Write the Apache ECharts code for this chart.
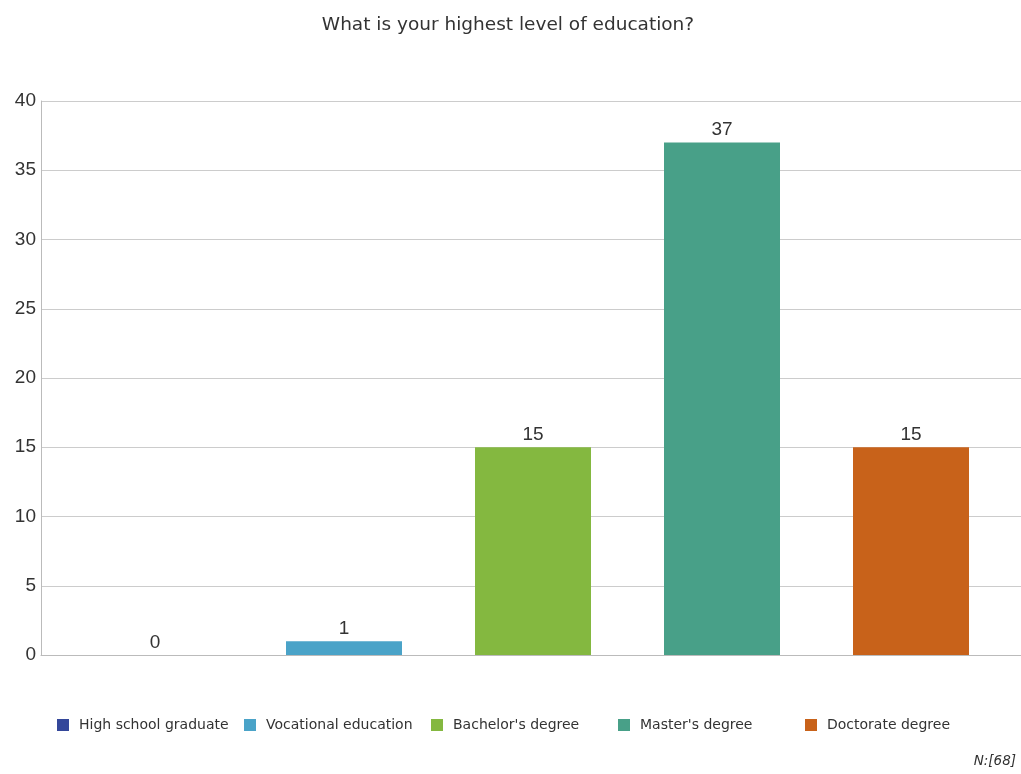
<!DOCTYPE html>
<html>
<head>
<meta charset="utf-8">
<script src="https://cdn.jsdelivr.net/npm/echarts@6/dist/echarts.min.js"></script>
<style>html,body{margin:0;padding:0;background:#fff;}#c{width:1021px;height:774px;}</style>
</head>
<body>
<div id="c"></div>
<script>
var categories = ["High school graduate", "Vocational education", "Bachelor's degree", "Master's degree", "Doctorate degree"];
var values = [0, 1, 15, 37, 15];
var colors = ["#34479a", "#4aa3c8", "#84b840", "#48a088", "#c8621a"];
var yTicks = [0, 5, 10, 15, 20, 25, 30, 35, 40];
var legendLefts = [57, 244, 431, 618, 805];

var chart = echarts.init(document.getElementById('c'));
var series = categories.map(function (name, i) {
  return {
    name: name,
    type: 'bar',
    xAxisIndex: 1,
    yAxisIndex: 1,
    stack: 'all',
    barWidth: 116,
    itemStyle: { color: colors[i] },
    label: { show: true, position: 'top', distance: 3, fontSize: 19, color: '#333', fontFamily: 'Liberation Sans, Arial, sans-serif' },
    data: values.map(function (v, j) { return j === i ? v : '-'; })
  };
});
var legends = categories.map(function (name, i) {
  return {
    data: [name],
    left: legendLefts[i], top: 718,
    padding: 0,
    itemWidth: 12, itemHeight: 12,
    icon: 'rect',
    selectedMode: false,
    textStyle: { fontSize: 14, color: '#333', padding: [0, 0, 0, 5], fontFamily: 'DejaVu Sans, sans-serif' }
  };
});
chart.setOption({
  animation: false,
  title: [
    { text: 'What is your highest level of education?', left: 503, top: 11, textAlign: 'center',
      textStyle: { fontSize: 18.5, fontWeight: 'normal', color: '#333', fontFamily: 'DejaVu Sans, sans-serif' } },
    { text: 'N:[68]', right: 0, bottom: 1,
      textStyle: { fontSize: 13.5, fontStyle: 'italic', fontWeight: 'normal', color: '#333', fontFamily: 'DejaVu Sans, sans-serif' } }
  ],
  legend: legends,
  grid: [
    { left: 41, right: 0, top: 101, bottom: 119 },
    { left: 60.5, width: 945, top: 101, bottom: 119 }
  ],
  xAxis: [
    { gridIndex: 0, type: 'category', data: [''], axisLine: { show: true, lineStyle: { color: '#bbb' } }, axisTick: { show: false }, axisLabel: { show: false } },
    { gridIndex: 1, type: 'category', data: categories, axisLine: { show: false }, axisTick: { show: false }, axisLabel: { show: false } }
  ],
  yAxis: [
    { gridIndex: 0, type: 'value', min: 0, max: 40, interval: 5,
      axisLine: { show: true, lineStyle: { color: '#bbb' } }, axisTick: { show: false },
      splitLine: { show: true, lineStyle: { color: '#ccc' } },
      axisLabel: { fontSize: 19, color: '#333', margin: 5, fontFamily: 'Liberation Sans, Arial, sans-serif',
        formatter: function (v) { return yTicks.indexOf(v) >= 0 ? String(v) : ''; } } },
    { gridIndex: 1, type: 'value', min: 0, max: 40, interval: 5, show: false, splitLine: { show: false } }
  ],
  series: series
});
</script>
</body>
</html>
